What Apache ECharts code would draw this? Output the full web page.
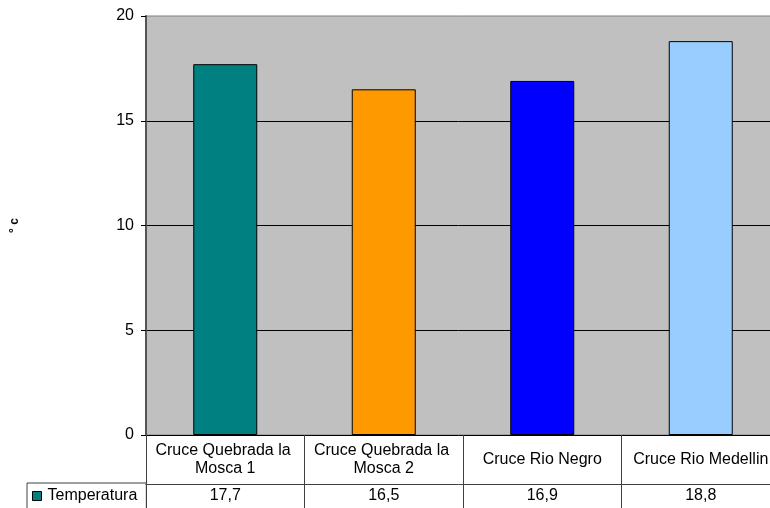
<!DOCTYPE html>
<html>
<head>
<meta charset="utf-8">
<script src="https://cdn.jsdelivr.net/npm/echarts@6/dist/echarts.min.js"></script>
<style>
html,body{margin:0;padding:0;background:#fff;overflow:hidden;}
#chart{width:770px;height:508px;}
</style>
</head>
<body>
<div id="chart"></div>
<script>
var categories = ['Cruce Quebrada la Mosca 1', 'Cruce Quebrada la Mosca 2', 'Cruce Rio Negro', 'Cruce Rio Medellin'];
var temperatura = [17.7, 16.5, 16.9, 18.8];
var barColors = ['#008080', '#FF9900', '#0000FF', '#99CCFF'];
var yTicks = [0, 5, 10, 15, 20];
var seriesName = 'Temperatura';
var axisTitle = '° c';

var font = "'Liberation Sans', Arial, sans-serif";
var chart = echarts.init(document.getElementById('chart'), null, {renderer: 'canvas'});
chart.setOption({
  animation: false,
  backgroundColor: '#ffffff',
  textStyle: {fontFamily: font},
  grid: {
    left: 146, top: 16, right: -10, height: 419,
    show: true, backgroundColor: '#c0c0c0', borderColor: '#808080', borderWidth: 1,
    containLabel: false,
    outerBoundsMode: 'none'
  },
  legend: {
    data: [seriesName],
    left: 27, top: 483,
    orient: 'horizontal',
    padding: [5, 9, 5, 5],
    borderColor: '#404040', borderWidth: 1,
    itemWidth: 9, itemHeight: 9,
    itemGap: 5,
    icon: 'rect',
    itemStyle: {color: barColors[0], borderColor: '#000', borderWidth: 1},
    textStyle: {fontFamily: font, fontSize: 16, color: '#000', padding: [0,0,0,1]}
  },
  xAxis: [{
    type: 'category',
    data: categories,
    gridIndex: 0,
    position: 'bottom',
    axisLine: {show: true, lineStyle: {color: '#000', width: 1}},
    axisTick: {show: true, length: 49, inside: false, lineStyle: {color: '#404040'}},
    axisLabel: {
      interval: 0, color: '#000', fontFamily: font, fontSize: 16, lineHeight: 18,
      margin: 24.5, verticalAlign: 'middle', width: 152, overflow: 'break', align: 'center'
    },
    splitLine: {show: false}
  }, {
    type: 'category',
    data: categories,
    gridIndex: 0,
    position: 'bottom',
    offset: 49,
    axisLine: {show: true, onZero: false, lineStyle: {color: '#404040', width: 1}},
    axisTick: {show: true, length: 24, inside: false, lineStyle: {color: '#404040'}},
    axisLabel: {
      interval: 0, color: '#000', fontFamily: font, fontSize: 16,
      margin: 12, verticalAlign: 'middle',
      formatter: function (v, i) { return String(temperatura[i]).replace('.', ','); }
    },
    splitLine: {show: false}
  }],
  yAxis: {
    type: 'value',
    min: yTicks[0], max: yTicks[yTicks.length - 1], interval: 5,
    name: axisTitle,
    nameLocation: 'middle',
    nameGap: 125,
    nameRotate: 90,
    nameTextStyle: {fontFamily: font, fontSize: 12, fontWeight: 'bold', color: '#000'},
    axisLine: {show: true, lineStyle: {color: '#555555', width: 2}},
    axisTick: {show: true, length: 5, inside: false, lineStyle: {color: '#000'}},
    axisLabel: {color: '#000', fontFamily: font, fontSize: 16, margin: 12},
    splitLine: {show: true, showMaxLine: false, showMinLine: false, lineStyle: {color: '#000', width: 1}}
  },
  series: [{
    name: seriesName,
    type: 'bar',
    xAxisIndex: 0,
    barWidth: 64,
    itemStyle: {color: barColors[0], borderColor: '#000', borderWidth: 1},
    data: temperatura.map(function (v, i) {
      return {value: v, itemStyle: {color: barColors[i]}};
    })
  }]
});
</script>
</body>
</html>
